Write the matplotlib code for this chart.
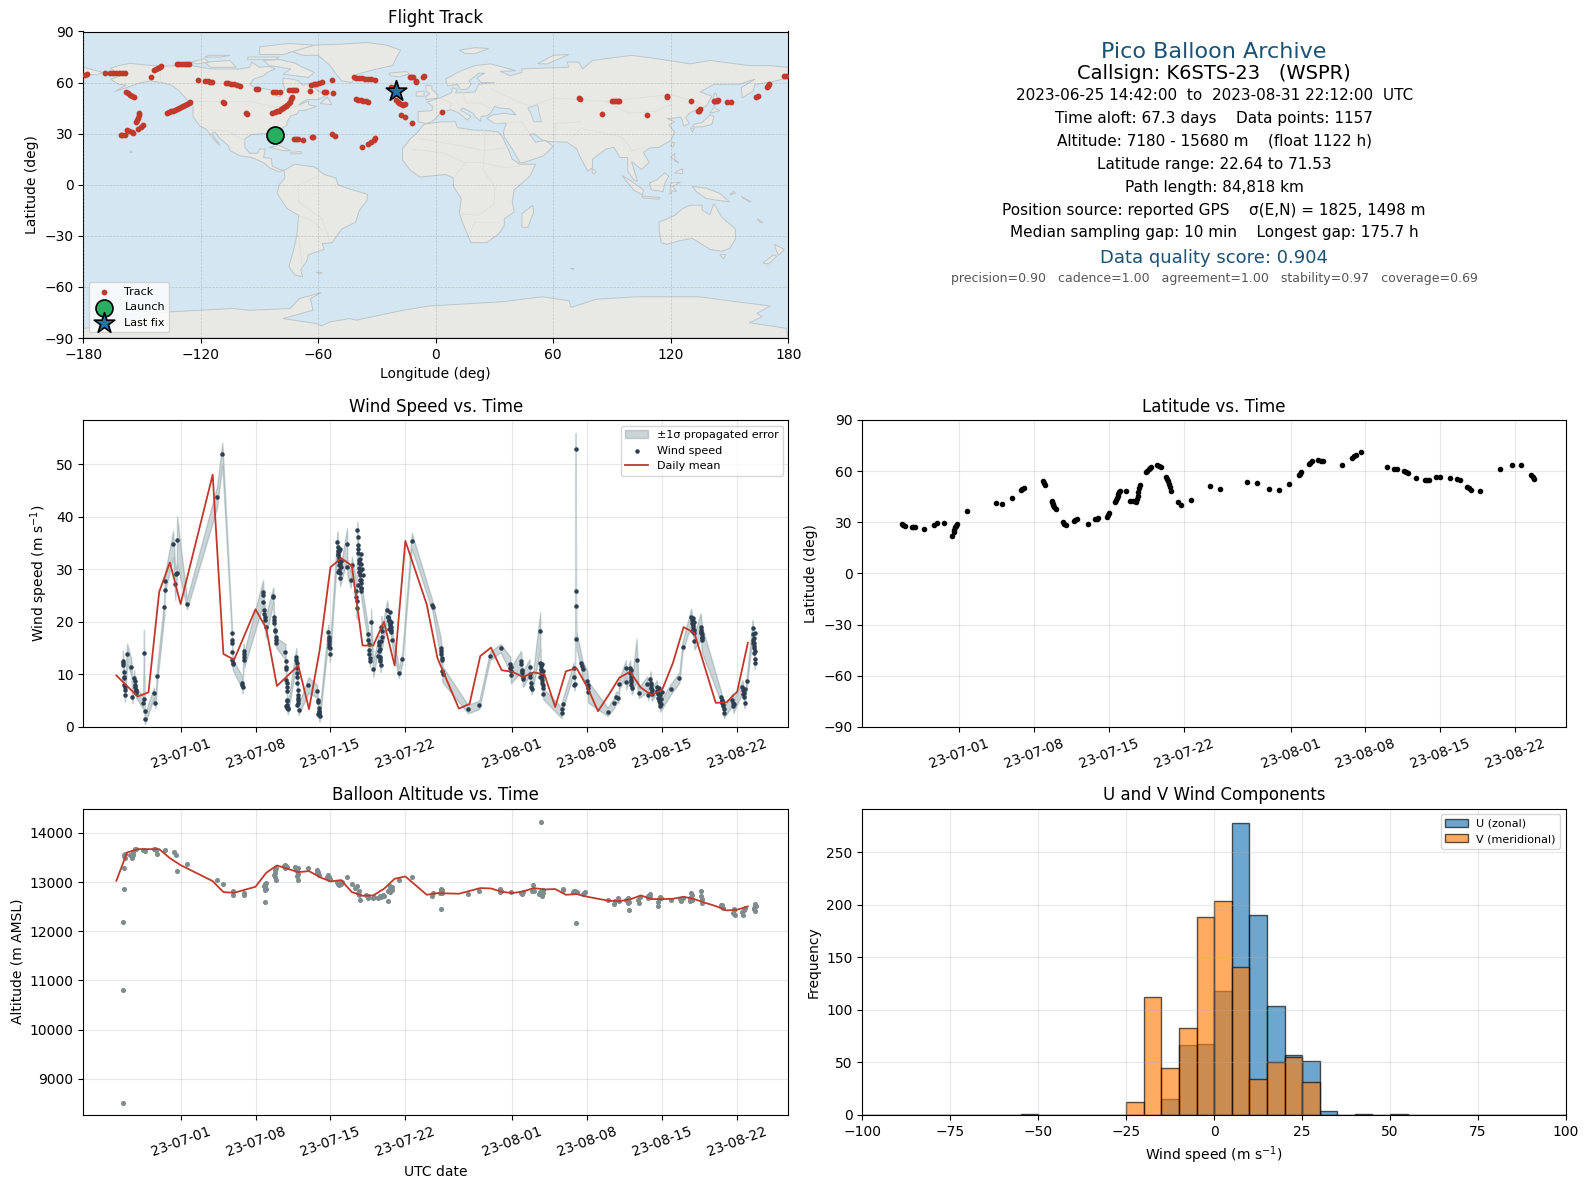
import datetime

import matplotlib
matplotlib.use("Agg")
import matplotlib.dates as mdates
import matplotlib.pyplot as plt
import numpy as np

W = 1590
H = 1189

# colours
OCEAN = '#d4e6f1'
LAND = '#e8e8e4'
COAST = '#bcc6ca'
RED = '#c0392b'
NAVY = '#2c3e50'
GREY = '#7f8c8d'
TITLE_BLUE = '#1a5276'

# ---- map outlines (lon, lat) ----
north_america = [(-168,65.5),(-164,66.5),(-166,68.5),(-162,70),(-156,71.3),(-148,70.3),(-140,69.7),(-130,70),(-124,69.8),
    (-115,68),(-108,68),(-100,68),(-95,69),(-94,72),(-90,69),(-85,69.5),(-82,68),(-86,66),(-88,64),(-93,62),(-95,59),
    (-92.5,57),(-88,56.5),(-82,55),(-82,52.5),(-79.5,51.5),(-79,54),(-77,56),(-78,59),(-78,62.5),(-73,62),(-70,61),
    (-68,58.5),(-65,59.5),(-62,57),(-60,55),(-56,52.5),(-60,50),(-66,50),(-70,47),(-65,49),(-65,47),(-61,46),(-66,44),
    (-70,43.5),(-71,41.5),(-74,40.5),(-76,37),(-76,35),(-81,31.5),(-80,27),(-80.5,25),(-82,27),(-84,30),(-89,30),
    (-94,29.5),(-97.5,27),(-97.5,22),(-95,18.5),(-91,18.5),(-90,21),(-87,21),(-88,16),(-84,15.5),(-83.5,11),(-80,9),
    (-77.5,8.5),(-80,7.5),(-85,10),(-88,13),(-94,16),(-100,17),(-105,20),(-106,23),(-110,27),(-113,31),(-114.5,30),
    (-110,23),(-112,25),(-115,29),(-117,32.5),(-120.5,34.5),(-124,40),(-124,47),(-127,50),(-131,55),(-135,58.5),
    (-140,60),(-146,61),(-152,59.5),(-158,57),(-164,54.7),(-158,58.5),(-162,59),(-166,62),(-161,64)]
south_america = [(-77.5,8.5),(-72,12),(-62,10.5),(-57,6),(-51,4),(-50,0),(-44,-2.5),(-35,-5.5),(-35,-9),(-39,-15),(-41,-22),
    (-48,-26),(-53,-34),(-58,-34.5),(-57,-38),(-65,-41),(-66,-45),(-69,-50),(-68,-54),(-72,-53),(-75,-48),(-73,-40),
    (-71,-30),(-70,-18),(-76,-14),(-81,-5),(-80,0),(-77,4)]
africa = [(-6,35.5),(3,37),(10,37),(11,33.5),(20,32),(25,32),(32,31),(34,28),(37,21),(39,15),(43,12),(51,12),(48,5),(40,-3),
    (39,-10),(40,-16),(35,-20),(35,-24),(32,-29),(26,-34),(18,-34),(15,-26),(12,-17),(13,-8),(9,-1),(9,4),(5,6),(-4,5),
    (-8,4.5),(-13,8.5),(-17,14.5),(-17,21),(-13,27),(-10,30)]
eurasia = [(-9,37),(-9,43),(-2,43.5),(-1.5,46),(-4.5,48.5),(2,51),(8,54),(8.5,57),(11,56),(10,54),(14,54),(20,54.5),(22,59),
    (30,60),(23,60),(21,63),(25,65.5),(22,65.5),(17,61),(18,59),(16,56),(12.5,56),(11,59),(6,58),(5,62),(13,67),(20,70),
    (28,71),(41,67),(33,66.5),(38,64),(44,66),(44,68),(54,68.5),(68,69),(67,72),(73,72),(75,68),(80,73),(100,76),(113,74),
    (130,71),(140,73),(160,70),(170,70),(180,69),(180,65),(177,64),(179,62.5),(170,60),(163,59),(162,55),(156.5,51),
    (156,57),(163,62),(155,59),(142,59),(135,54.5),(141,52),(138,46),(130,42.5),(127.5,39.5),(129.5,36),(126.5,34.5),
    (126,37.5),(125,39.8),(121,39),(118,39),(122,37),(119,35),(122,31),(120,26),(114,22),(109,21.5),(106,19),(109,13),
    (105,9),(100,13.5),(103,2),(101,3),(98,8),(98,16),(94,16),(91,22),(87,21),(80,15),(80,10),(77.5,8),(73,18),(72,21),
    (67,25),(57,25.5),(54,26.5),(50,30),(48,29.5),(51,25),(56,26),(60,22.5),(55,17),(45,13),(43,13),(39,21),(35,28),
    (34.5,31),(36,36),(30,36),(26,39),(29,41),(35,42),(41,41),(38,44.5),(33,45),(30,46),(28,42),(26,40.5),(23,40),(23,37),
    (20,40),(19,42),(14,45),(12.5,44),(18,40),(16,38),(12,42),(8,44),(3,43),(0,39),(-2,37),(-5,36)]
australia = [(114,-22),(122,-18),(126,-14),(130,-12),(136,-12),(136,-15),(140,-17.5),(142,-11),(146,-19),(153,-26),(153,-32),
    (150,-37.5),(146,-39),(140,-38),(136,-35),(131,-31.5),(124,-33),(118,-35),(115,-34),(114,-26)]
antarctica = [(-180,-90),(-180,-84.4),(-170,-83),(-155,-79),(-145,-76),(-136.6,-74.7),(-120.5,-73.7),(-103.5,-72.7),(-95,-73.7),
    (-74.5,-72.7),(-69.5,-66.8),(-58.4,-63.3),(-64,-66.8),(-62.7,-73.7),(-78,-78.6),(-61,-81.5),(-58.4,-82.9),(-54,-80.5),
    (-44,-78.6),(-40.5,-79.5),(-16.7,-73.7),(-3.4,-71.2),(34,-68.7),(54.4,-65.8),(68,-68.1),(69,-72),(71.4,-71.2),(81.6,-67.3),
    (102,-65.8),(134.4,-65.8),(149.7,-68.1),(170.9,-71.2),(164,-75.5),(166.7,-77.5),(160,-81),(179,-84.3),(180,-90)]
islands = [
    [(-73,78),(-68,76),(-60,76),(-54,70),(-51,65),(-48,61),(-43,60),(-40,65),(-30,68),(-22,70),(-20,75),(-18,79),(-25,82),(-35,83.5),(-50,82.5),(-62,82),(-70,80)],
    [(-80,73.5),(-72,71.5),(-68,69),(-62,66),(-65,63),(-72,64),(-78,65),(-74,68),(-85,70),(-88,73)],
    [(-118,72),(-105,73),(-102,69),(-115,69)],
    [(-90,76.5),(-78,76.5),(-62,82),(-75,83),(-90,81)],
    [(-125,72),(-118,74),(-116,72),(-122,71)],
    [(-110,75),(-105,76),(-116,76),(-118,75)],
    [(-96,75),(-80,75),(-82,73.5),(-96,73.5)],
    [(-59,47.7),(-53,47),(-55.5,51.5)],
    [(-85,22),(-80,23),(-74,20),(-78,20)],
    [(-74,19),(-69,19.5),(-68.5,18.3),(-74,18)],
    [(-180,69),(-175,67.5),(-170,66),(-173,64.5),(-180,65)],
    [(-5,50),(1,51),(1,53),(-2,56),(-2,58),(-5,58.5),(-5,55),(-3,53.5),(-5,52)],
    [(-10,52),(-6,52),(-6,55),(-10,54.5)],
    [(-24,65.5),(-15,66.5),(-13.5,65),(-19,63.4),(-23,64)],
    [(12,79),(20,80.5),(27,80),(20,77),(15,77)],
    [(52,71),(57,71),(68,76.5),(60,76)],
    [(131,34),(136,34),(141,35.5),(142,40),(140,41),(136,36.5),(132,35.5)],
    [(140,42),(145,43.5),(142,45.5)],
    [(130,33.5),(132,33),(131,31)],
    [(142,46),(144,49),(143,54),(142,53)],
    [(120,23),(121,25),(122,24.5),(121,22)],
    [(80,9.5),(82,7.5),(80.5,6),(79.8,8)],
    [(120,16),(122,18.5),(122,14),(124,13)],
    [(122,7),(126,9.5),(126,6.5)],
    [(95,5.5),(100,2),(106,-3),(105.5,-6),(101,-3)],
    [(105,-6.5),(114.5,-7.5),(114,-8.5),(106,-7.7)],
    [(109,1),(113,3),(117,7),(119,5),(117,1),(116,-4),(110,-3)],
    [(119.5,-5.5),(120,1),(125,1.5),(121,-1),(123,-4),(121,-3.5)],
    [(131,-1),(138,-2),(145,-5),(150,-10),(143,-9),(138,-8),(133,-4)],
    [(145,-41),(148,-41),(147,-43.5)],
    [(173,-35),(178,-38),(175,-41.5),(174,-39)],
    [(172.5,-41),(174,-42),(170,-46.5),(167,-46)],
    [(49.5,-12),(50,-16),(47,-25),(44,-25),(44,-17)],
    [(-156,20),(-155,19),(-156,19)],
    [(68.5,-49),(70,-49),(70,-49.7)],
    [(-61,-51.5),(-58,-51.5),(-59,-52.3)],
    [(164,-20),(167,-22),(166,-22.3)],
    [(152,-4),(153,-5),(150,-6)],
    [(156,-7),(161,-10),(160,-10)],
]
caspian = [(47,45),(52,47),(53,41),(54,37),(50,37),(49,40.5)]
borders = [
    [(-123,49),(-95,49),(-83,46),(-75,45),(-67,47)],
    [(-117,32.5),(-106,31.5),(-97.5,26)],
    [(-141,70),(-141,60)],
    [(-70,-10),(-58,-20),(-54,-33)],
    [(-70,-10),(-70,0),(-60,5)],
    [(-70,-18),(-62,-22),(-58,-27)],
    [(-70,-30),(-68,-50)],
    [(-8,27),(12,23),(25,20),(37,22)],
    [(-13,21),(3,19),(15,13),(24,13),(35,10),(43,11)],
    [(25,32),(25,20),(24,9),(30,-1),(30,-11),(22,-18),(12,-17)],
    [(9,4),(15,13)],
    [(17,-29),(20,-22),(32,-22)],
    [(2,51),(8,48),(7,44)],
    [(14,54),(15,48),(22,48),(28,45)],
    [(28,56),(40,50),(48,46),(60,51),(87,49),(120,53),(135,48),(131,43)],
    [(30,36),(44,37),(48,30)],
    [(61,25),(61,36),(74,37)],
    [(67,25),(74,33),(79,32),(95,28),(98,24),(100,20),(106,22)],
    [(87,49),(98,42),(112,43),(120,47)],
]

# ---- track ----
track_lon = [-179.1,-178,-168.9,-166.4,-165,-163.5,-162,-160.3,-158.7,-145.6,-143.9,-143,-142,-141,-140.5,
    -132.4,-131,-129.5,-128,-126.9,-125.9,-158.2,-157,-156,-155,-154,-121.3,-117.9,-116.5,-115.5,-114.5,
    -107.2,-106,-104.5,-103,-101.5,-100,-91.6,-90.8,-108.6,-108,-96.7,-96.2,
    -83,-81.5,-79.7,-74.9,-73.5,-72.3,-71.2,-64.4,-57.2,-56.3,-52.3,-63.5,-62.3,-61,-59.5,-57.9,-52.8,
    -41.9,-40.5,-39,-37.5,-36,-34.5,-33,-31.2,-22.7,-13.3,-12.5,-11.6,-10.3,-10,-6.5,-6.2,
    -40.9,-39.5,-38.3,-37,-35.8,-34.6,-20.1,-19.5,-18.8,-18,-17,-15.9,-17.6,-15.5,-12,3.4,
    73.1,73.8,85,90.1,91,92,93,93.5,108,117.9,118.2,130.4,134.4,135,133.8,142,142.8,143.5,144.2,148.8,150.5,
    163.3,164.3,169.2,169.7,170.2,177.7,179,
    -137.5,-136.4,-135.3,-134.2,-133.2,-132.1,-131,-130,-129,-128,-127,-126.2,-125.6,
    -83.4,-82.3,-81.2,-80.2,-79.2,-78.2,-77.3,-76.5,-75.8,-75,-74.4,-73.8,-73.2,
    -151.4,-151.8,-152.3,-152.7,-153.1,-149.7,-150.6,-151.9,-161,-160,-158.9,-157.9,-156.5,-155.3,-154.5,
    -72.5,-71.4,-70.3,-67.6,-63.3,-62.7,-53.1,-51.3,-37.5,-34.6,-33,-31.8,-30.9]
track_lat = [64.7,64.8,65.7,65.7,65.7,65.7,65.7,65.7,65.7,63.5,67.4,67.9,68.5,69.1,69.6,
    70.9,70.9,70.9,70.9,70.9,70.9,54.3,53.6,53,52.2,51.4,61.6,61,60.7,60.5,60.2,
    60,59.7,59.3,59,58.4,57.9,56.3,56,48.5,48,42,41.6,
    54.5,54.5,54.5,55.7,55.7,55.7,55.7,55.1,54.5,54.5,53.9,58.6,59,59.4,60,60.6,61.6,
    63.1,62.9,62.7,62.5,62.3,62.1,61.9,61.6,57.3,63,63.4,63,61.2,60.6,63.5,63.9,
    50.4,50,49.6,49.2,48.9,48.5,49.8,48.6,47.8,47.2,47.1,47.4,41,39.9,36.4,43,
    51,50.6,41.3,49,49.2,49,49,49.2,40.8,52.4,51.8,49.2,43.6,44.4,43.2,49,49.2,49.4,49.5,48.4,48.8,
    51.3,52.2,57.6,58.2,59,64.1,64.1,
    42,42.6,43.1,43.6,44.1,44.6,45.2,45.8,46.3,46.9,47.5,48.2,48.7,
    42,42.5,43.1,43.6,44.2,44.8,45.4,46.1,46.9,47.8,48.8,50.1,51.4,
    42.2,40.8,39.4,38,36.7,34.8,33.9,32.8,29,29,29.5,31.9,31.8,31,30.3,
    27,27.1,27,26,27.8,28.3,29.9,28.7,22.3,24,25.2,26.5,27.5]
launch_lon = -81.9
launch_lat = 29.2
last_lon = -20.1
last_lat = 55

# ---- wind speed, days from 2023-07-01 ----
wind_day = [-5.4,-5.38,-5.36,-5.33,-5.3,-5.28,-5.26,-5.24,-5.22,-5.2,
    -5.0,-4.6,-4.5,-4.35,-4.3,-4.27,-4.24,-4.2,-4.17,-4.13,
    -3.5,-3.42,-3.38,-3.36,-3.34,-2.5,-2.35,-2.2,-1.52,-1.5,-1.42,
    -0.7,-0.5,-0.4,-0.35,-0.33,0.6,3.4,3.9,
    4.8,4.81,4.82,4.83,4.84,4.86,4.88,5.75,5.77,5.8,5.88,5.9,5.92,5.94,
    7.7,7.72,7.74,7.78,7.82,7.86,7.9,7.95,8.65,8.68,8.7,8.73,8.76,8.8,8.84,8.88,8.92,8.96,
    9.8,9.82,9.84,9.86,9.88,9.9,9.92,9.94,9.96,9.98,10,10.02,
    10.8,10.82,10.84,10.86,10.88,10.9,10.92,10.94,10.96,10.98,11,11.02,
    11.95,12.75,12.8,12.82,12.9,12.92,12.95,12.98,
    13.8,13.82,13.85,13.88,13.92,13.95,
    14.65,14.68,14.7,14.73,14.76,14.78,14.8,14.83,14.87,14.9,
    15.55,15.58,15.9,16,
    16.4,16.42,16.44,16.46,
    16.5,16.53,16.56,16.59,16.62,16.65,16.68,16.71,16.74,16.77,16.8,16.83,16.86,16.89,
    17.5,17.55,17.58,17.6,17.63,17.66,17.7,17.8,18,
    18.5,18.54,18.58,18.62,18.66,18.7,18.76,18.8,18.84,
    19.3,19.38,19.46,19.54,19.62,19.7,19.78,
    20.4,20.7,21.6,23.5,23.55,
    24.3,24.33,24.36,24.39,24.42,24.45,24.48,
    26.85,27.9,28.9,29.9,
    30.8,30.82,30.84,30.86,
    31.8,31.84,31.88,31.92,31.96,32,
    32.6,32.63,32.66,32.75,32.78,32.81,33.6,
    33.62,33.65,33.68,33.71,33.74,33.77,33.8,33.84,33.88,
    35.6,35.63,35.7,36.72,36.76,36.8,36.84,36.9,36.92,36.94,36.97,37.45,37.5,37.56,
    38,38.03,38.06,38.1,39.9,40.5,40.7,40.9,41,41.6,41.63,
    42,42.03,42.06,42.09,42.12,42.15,42.6,42.8,43.6,43.7,
    43.9,43.93,43.96,43.99,44.02,44.5,44.55,44.6,44.65,44.7,44.75,44.8,45.8,46.6,46.9,
    47.7,47.75,47.8,47.85,47.9,47.95,48,48.6,48.63,48.66,48.69,48.72,
    50.5,50.56,50.62,50.68,50.75,51.55,51.6,51.65,
    52.5,52.55,52.6,52.65,52.7,52.9,
    53.45,53.48,53.51,53.54,53.57,53.6,53.63,53.66]
wind_speed = [12.5,12.2,11.7,10.5,9.6,9.4,8.0,7.6,7.1,6.0,
    13.9,11.4,5.7,9.3,8.7,8.0,7.6,7.1,6.8,6.5,
    4.6,14.1,5.3,3.0,1.5,6.5,4.6,9.7,22.8,26,27.8,
    34.8,27.2,29.2,29.3,35.6,23.4,43.7,51.9,
    17.9,16.6,16,14.3,12.8,12.2,11.9,8.4,8,7.6,14.4,13.9,13.4,12.8,
    25.6,25.1,23.8,22.3,21.5,20.9,20.3,19.1,25,24.8,21,20.4,19.8,18.5,18.2,17.2,16.6,16,
    14.3,12.5,11.5,11,9,8.4,7.7,6.8,5.2,4.2,3.7,3.4,
    13.4,12.8,12.2,11.2,10.3,9.6,8.4,7.1,6,5.2,4.6,3.3,
    8,6.8,5.2,4.7,3,2.7,2.3,2,
    18,17.2,16.3,15.7,15,13.9,
    35.2,34.3,33.4,32.8,32.1,31.5,30.9,29.9,29.3,28.3,
    34.8,30.4,28,30.9,
    25.8,24.8,23.9,22.6,
    37.5,36.2,34.7,33.8,33.1,31.8,31.2,30.2,29.6,29,28,27.4,26.4,25.8,
    17.7,16.6,15.7,14.7,13.8,13.1,12.6,20,11,
    16.2,15.6,14.4,13.4,12.5,11.7,19.1,18.2,17.1,
    22.3,21,20.4,19.8,19.1,18.5,16.6,
    10.3,12.9,35.4,23.2,22.8,
    15,14.4,13.8,13.1,12.8,10.6,10,
    3.4,4.2,13.5,15,
    11.9,11.2,10.6,9.8,
    12.5,11.9,10.9,10.3,9.6,9.1,
    11.4,10,9.6,8.4,7.7,7.2,18.3,
    12.2,11.6,10.9,10.3,9.6,9,8.4,7.4,6.3,
    2.7,3.4,4.3,11.2,9.6,8,8.2,25.9,52.9,23,16.7,12.2,11.6,11,
    8.7,8,7.4,6.6,2.9,4.6,5.8,5.5,8.2,11.2,8.6,
    11.2,10.3,9.6,9,8,7.4,12.8,6.5,8.1,6.1,
    9.1,8.4,7.4,6.5,6.2,7.7,6.8,6.2,5.5,4.9,4.5,3.9,7.2,9.4,15.3,
    21,20.4,19.8,19.1,18.5,17.9,16.3,19.1,18.5,17.9,17.2,16.6,
    5.7,5,4.6,3.9,2.7,5.2,4.6,3.9,
    7.7,7.1,6.5,5.7,4.6,8.7,
    18.8,17.6,16.6,16,15,14,13,12.2]
wind_sigma = [2,2,1.5,1.5,1.5,1.5,1,1,1,1.2,
    2,1.5,1.2,1.5,1.2,1,1,1,1,1,
    1.2,4.4,1,1,1,1,1,1.5,1.5,1.5,1.8,
    2.5,3,1.5,1.5,4.5,1,2,2.2,
    1,1,1,1,1,1,1,1.2,1.2,1.2,1.5,1.5,1.5,1.5,
    2.3,2.3,2.3,2.3,2.3,2.3,2,2,1.5,1.5,1.5,1.5,1.5,1.5,1.5,1.5,1,1,
    1.5,1.2,1.2,1.2,1.2,1,1,1,1,1,1,1,
    1.6,1.6,1.5,1.5,1.2,1.2,1.2,1,1,1,1,1,
    1.5,1.2,1,1,1,1,1,1,
    1.5,1.5,1.5,1.5,1.5,1.5,
    2,2,1.5,1.5,1.5,1.5,1.5,1.5,1.5,1.5,
    3,1.5,1.5,1.5,
    2,2,2,2,
    1.5,1.5,1.5,1.5,1.5,1.5,1.5,1.5,1.5,1.5,1.5,1.5,1.5,1.5,
    1.5,1.2,1.2,1.2,1.2,1.2,1.2,2.5,1.5,
    1.2,1.2,1.2,1.2,1.2,1.2,2,2,2,
    1.8,1.8,1.8,1.8,1.5,1.5,1.5,
    1,1,1.5,1,1,
    2,2,2,1.5,1.5,1.5,1.5,
    0.8,0.8,0.8,0.8,
    1.5,1.5,1.5,1.5,
    2,2,1.5,1.5,1.5,1.5,
    1.5,1.5,1.5,1,1,1,3.5,
    1.5,1.5,1.2,1.2,1.2,1.2,1.2,1,1,
    1,1,1,1,1,1,1,3,3,2.5,1.5,1.5,1.5,1.5,
    2,2,2,2,0.8,1,1,1,1,1.5,1.5,
    1.5,1.5,1.5,1.5,1.2,1.2,4,1,1.5,1,
    1.5,1.5,1.2,1.2,1.2,1.2,1.2,1.2,1.2,1,1,1,1,1,1,
    1.5,1.5,1.5,1.5,1.5,1.5,1.5,2.5,2.5,2.5,2.5,2.5,
    1,1,1,1,1,1.2,1.2,1.2,1.2,1.2,1.2,1,1,1,
    1.5,1.5,1.5,1.5,1.5,1.5,1.2,1.2]
# more dots in the dense clusters
wind_extra_day = [14.7,14.8,14.85,14.95,15,14.75,14.9,16.75,16.85,16.9,16.95,17,16.9,16.7,16.6,16.85,
    19.4,19.5,19.6,19.45,19.55,19.65,19.7,18.6,18.45,18.65,18.75,33.7,33.8,33.75,33.85,33.6,33.9,
    9.9,9.85,9.95,10.9,10.95,12.85,12.95,12.9,13.85,13.9,44.6,44.75,44.85,44.95,44.7,44.9,
    47.85,47.9,47.95,47.8,48,48.65,48.7,48.75,50.6,50.7,50.8,50.55,51.7,52.55,52.7,
    53.55,53.6,53.65,53.7,53.5,30.85,31.9,42.1,42.05,43.95,44.05]
wind_extra_speed = [33,33.5,31,31.6,30.5,29.5,33.9,32,33,31,30,29,28,29.5,27,26.5,
    21,20.2,19.4,18.6,21.8,18,20,14.9,13.5,12.9,16.4,11,12,9.9,10.6,9.5,8,
    5,4,3.6,4.2,5.5,2.5,2.8,3.6,16.8,15.2,6.5,6,5.4,6.6,7.4,4.3,
    20.7,19.4,18.5,18.2,20,18,17,17.6,5.2,4.4,3.5,4.8,4.3,6.2,7.3,
    17,15.5,14.5,17.9,16,11.5,10.6,10.9,8.6,7.9,7]
mean_day = [-6,-4,-3,-2,-1,0,3,4,5,7,8,9,11,12,13,14,15,16,17,18,19,20,21,23,24,26,27,28,29,30,31,32,33,34,35,36,37,38,
    39,40,41,42,43,44,45,46,47,48,50,51,52,53]
mean_speed = [9.8,5.8,6.6,25.7,31.3,23.4,48.0,13.9,12.8,22.4,18.8,7.8,11.7,3.4,14.7,30.4,32.1,30.7,15.5,15.5,20,11.7,35.4,
    23.3,13.1,3.5,4.4,13.5,15.1,10.8,10.5,9.5,10.4,10,3.8,10.6,11.2,7.6,3,6.1,9.4,10.5,7.5,6.1,7.1,12.2,19,17.9,4.6,4.7,6.7,16]

# ---- latitude ----
lat_day = [-5.4,-5.25,-5.1,-4.45,-4.3,-4.15,-3.35,-2.4,-2.1,-1.4,-0.7,-0.55,-0.48,-0.4,-0.3,-0.2,0.7,3.4,4,4.9,5.8,5.9,6,
    7.85,7.9,8,8.65,8.7,8.75,8.8,8.9,9,9.65,9.8,10,10.7,10.85,11,12,12.7,12.85,13,13.8,13.9,14,
    14.6,14.66,14.72,14.8,14.85,14.9,15,15.6,16,16.25,16.5,16.6,16.68,16.75,16.85,16.95,
    17.5,17.6,17.7,17.8,17.9,18.5,18.7,18.85,19.35,19.42,19.5,19.6,19.7,19.8,20.5,20.75,21.65,
    23.5,24.35,26.9,27.85,28.95,29.9,30.85,31.75,31.88,32,32.7,32.85,33,33.55,33.8,34,35.8,
    36.75,36.9,37.1,37.6,40,40.7,41,41.6,41.8,42,42.75,43.6,43.8,44,44.6,45,45.9,46.6,46.9,
    47.55,47.7,47.9,48.7,50.6,51.7,52.6,53.55,53.68,53.8]
lat_deg = [28.8,28.3,27.8,27.5,27.3,27,25.9,28.2,29.4,29.8,22.2,24.5,25.7,27,27.9,28.8,36.5,41.2,41,44.1,48.8,49.4,50,
    54.5,53.2,52,42.7,41.8,41,40.2,38.9,37.6,30,29.3,28.6,30.8,31.4,32,29.2,32,32.2,32.4,33.3,34.3,35.3,
    42.2,43.3,44.4,45.5,46.6,47.6,48.6,48.6,42.4,42.3,42.2,43.7,45.5,48,50,52,
    59.4,60.2,61,61.9,62.7,63.5,63,62.4,56.5,55.2,54,52.5,50.5,48.6,41.8,40.4,42.9,
    51.2,49.4,53.5,52.9,49.4,48.8,52.5,57.6,58.6,59.6,64.1,64.9,65.7,66.3,66.1,65.9,63.9,
    67.8,68.7,69.6,71.4,62.4,61.2,61.2,60,59.4,58.8,56.1,55.1,55,54.9,56.5,56.7,55.9,55.3,54.7,
    51,50,49,48.2,61.4,63.9,63.9,57.8,56.5,55.3]

# ---- altitude ----
alt_day = [-5.42,-5.29,-5.21,-5.33,-5.33,-5.4,-5.4,-4.58,-4.46,-4.29,-3.42,-2.42,-2.21,-1.46,-0.63,-0.42,-0.29,0.63,3.42,3.92,
    4.88,4.88,5.88,5.88,7.79,7.92,7.92,7.92,8.83,8.75,8.88,9.79,9.79,10.83,10.92,10.96,11.92,12.71,12.92,13.75,13.96,
    14.71,15,15.54,16.04,16.46,16.67,16.79,17.5,18,18.63,18.96,19.42,19.58,19.71,19.38,20.42,21.58,23.5,24.29,24.38,24.29,
    26.88,27.92,29.88,30.83,31.88,32.88,32.79,33.75,33.75,33.67,35.71,36.79,36.96,37.71,39.92,40.54,40.83,41.79,41.79,41.88,
    42.79,43.83,43.63,44.79,44.63,45.83,46.79,47.71,47.63,48.63,48.71,50.63,51.67,51.79,52.63,52.54,53.63,53.63,53.75,
    -5.25,-5.15,-4.7,-4.55,-4.4,-4.2,-3.5,-3.35,-2.5,-2.3,
    7.85,7.9,7.95,8,8.8,8.85,8.9,9.7,9.85,9.9,10.7,10.8,10.9,11,10.95,
    12.8,12.7,13.7,13.85,13.9,14.6,14.8,14.9,15.05,16.3,16.55,16.7,17.3,17.5,18.1,18.4,18.7,18.9,19.5,19.6,19.75,
    24.25,24.3,24.4,23.6,29.8,29.95,31.8,32,33,33.5,33.6,33.85,33.9,
    35.75,36.7,36.85,37,37.6,37.8,40.6,41,41.6,41.85,42.7,42.9,43.7,43.9,44.7,44.9,44.65,46.7,46.9,47.6,47.75,47.8,48.65,48.7,
    50.5,50.7,51.6,51.75,52.5,52.7,53.55,53.7,53.6]
alt_m = [12186,13556,13488,13278,12858,10800,8500,13488,13556,13671,13644,13678,13570,13658,13610,13542,13224,13366,13047,12959,
    12810,12742,12776,12736,12912,12959,12844,12593,13251,13149,13047,13353,13285,13285,13115,13034,13285,13251,13149,13149,13061,
    12966,12959,13095,12959,12912,12810,12641,12722,12668,12722,12708,12607,12912,12844,12810,13047,13102,12722,12858,12776,12458,
    12756,12824,12858,12790,12763,12932,12810,12810,12722,14220,12858,12810,12173,12776,12641,12559,12675,12675,12573,12437,
    12573,12763,12675,12695,12505,12641,12607,12776,12607,12810,12573,12539,12437,12336,12437,12336,12539,12403,12505,
    13530,13580,13560,13510,13620,13680,13650,13630,13680,13660,
    12880,12920,12980,12860,13190,13100,13280,13330,13320,13300,13300,13260,13220,13280,13170,
    13200,13210,13110,13060,13100,13000,12950,13010,13000,12870,12780,12740,12730,12680,12700,12680,12690,12730,12840,12790,12900,
    12770,12810,12830,12780,12790,12810,12780,12790,12820,12750,12790,12780,12830,
    12830,12790,12820,12800,12750,12800,12610,12620,12630,12590,12640,12690,12720,12690,12650,12680,12590,12650,12680,12680,12730,12640,12720,12650,
    12530,12480,12370,12450,12400,12470,12450,12560,12480]
alt_mean_day = [-6,-5,-4,-2,-1,0,3,4,5,7,8,9,11,12,13,14,15,16,17,18,19,20,21,23,24,26,28,29,30,31,32,33,34,35,36,37,38,39,40,41,
    42,43,44,45,46,47,48,49,50,51,52,53]
alt_mean = [13027,13603,13671,13671,13488,13346,13020,12797,12783,12905,13190,13339,13203,13224,13102,13014,13041,12797,12722,12729,
    12864,13068,13115,12742,12776,12763,12878,12871,12803,12776,12810,12878,12851,12858,12742,12756,12702,12661,12620,12614,
    12647,12729,12654,12654,12661,12702,12654,12580,12512,12424,12437,12505]

# ---- histogram ----
bin_edges = list(range(-100, 101, 5))
u_counts = [0,0,0,0,0,0,0,0,0,1,0,0,0,0,0,0,0,15,67,68,118,278,190,104,57,51,4,0,1,0,1,0,0,0,0,0,0,0,0,0]
v_counts = [0,0,0,0,0,0,0,0,0,0,0,0,0,0,0,12,112,45,83,189,204,141,34,50,55,31,0,0,0,0,0,0,0,0,0,0,0,0,0,0]

# ---- date axis ----
base_date = mdates.date2num(datetime.datetime(2023, 7, 1))
tick_dates = [datetime.datetime(2023, 7, 1), datetime.datetime(2023, 7, 8), datetime.datetime(2023, 7, 15),
              datetime.datetime(2023, 7, 22), datetime.datetime(2023, 8, 1), datetime.datetime(2023, 8, 8),
              datetime.datetime(2023, 8, 15), datetime.datetime(2023, 8, 22)]
DAY_MIN = -9.09
DAY_MAX = 56.78


def to_dates(days):
    return base_date + np.array(days, dtype=float)


def px_axes(left, top, right, bottom):
    return fig.add_axes([left / W, 1 - bottom / H, (right - left) / W, (bottom - top) / H])


def date_axis(ax):
    ax.set_xlim(base_date + DAY_MIN, base_date + DAY_MAX)
    ax.set_xticks(mdates.date2num(tick_dates))
    ax.xaxis.set_major_formatter(mdates.DateFormatter('%y-%m-%d'))
    ax.tick_params(axis='x', labelrotation=20)
    ax.grid(True, alpha=0.3)


fig = plt.figure(figsize=(W / 100, H / 100), dpi=100)

L1, R1 = 83.3, 788.3
L2, R2 = 862.3, 1566
ROW1 = (31.5, 338)
ROW2 = (420, 727)
ROW3 = (808.5, 1115)

# Flight track
ax = px_axes(L1, ROW1[0], R1, ROW1[1])
ax.set_facecolor(OCEAN)
for poly in [north_america, south_america, africa, eurasia, australia, antarctica] + islands:
    xy = np.array(poly)
    ax.fill(xy[:, 0], xy[:, 1], facecolor=LAND, edgecolor=COAST, linewidth=0.7, zorder=1)
xy = np.array(caspian)
ax.fill(xy[:, 0], xy[:, 1], facecolor=OCEAN, edgecolor=COAST, linewidth=0.6, zorder=1.1)
for line in borders:
    xy = np.array(line)
    ax.plot(xy[:, 0], xy[:, 1], color='#dcdcd8', linewidth=0.5, zorder=1.2)
ax.scatter(track_lon, track_lat, s=10, color=RED, zorder=3, label='Track')
ax.scatter([launch_lon], [launch_lat], s=150, color='#27ae60', edgecolor='black', linewidth=1.2, zorder=4, label='Launch')
ax.scatter([last_lon], [last_lat], s=240, marker='*', color='#2471a3', edgecolor='black', linewidth=1.2, zorder=4, label='Last fix')
ax.set_xlim(-180, 180)
ax.set_ylim(-90, 90)
ax.set_xticks(np.arange(-180, 181, 60))
ax.set_yticks(np.arange(-90, 91, 30))
ax.grid(True, color='gray', alpha=0.35, linewidth=0.5, linestyle='--', zorder=2)
ax.set_axisbelow(False)
ax.set_xlabel('Longitude (deg)')
ax.set_ylabel('Latitude (deg)')
ax.set_title('Flight Track', fontsize=12)
ax.legend(loc='lower left', fontsize=8)

# Summary text
info_x = (L2 + R2) / 2 / W
info = [
    (51.5, 'Pico Balloon Archive', 16, TITLE_BLUE),
    (73.5, 'Callsign: K6STS-23   (WSPR)', 14, 'black'),
    (95, '2023-06-25 14:42:00  to  2023-08-31 22:12:00  UTC', 11, 'black'),
    (118, 'Time aloft: 67.3 days    Data points: 1157', 11, 'black'),
    (141, 'Altitude: 7180 - 15680 m    (float 1122 h)', 11, 'black'),
    (164, 'Latitude range: 22.64 to 71.53', 11, 'black'),
    (187.5, 'Path length: 84,818 km', 11, 'black'),
    (210, 'Position source: reported GPS    σ(E,N) = 1825, 1498 m', 11, 'black'),
    (233, 'Median sampling gap: 10 min    Longest gap: 175.7 h', 11, 'black'),
    (258, 'Data quality score: 0.904', 13, TITLE_BLUE),
    (278.5, 'precision=0.90   cadence=1.00   agreement=1.00   stability=0.97   coverage=0.69', 9, '#555555'),
]
for y_px, txt, size, col in info:
    fig.text(info_x, 1 - y_px / H, txt, fontsize=size, color=col, ha='center', va='center')

# Wind speed
ax = px_axes(L1, ROW2[0], R1, ROW2[1])
t = to_dates(wind_day)
v = np.array(wind_speed)
s = np.array(wind_sigma)
ax.fill_between(t, np.clip(v - s, 0, None), v + s, color='#6f8a8f', alpha=0.36, linewidth=1.0, label='±1σ propagated error')
ax.scatter(np.concatenate([t, to_dates(wind_extra_day)]), np.concatenate([v, wind_extra_speed]), s=5, color=NAVY, zorder=3, label='Wind speed')
ax.plot(to_dates(mean_day), mean_speed, color=RED, linewidth=1.3, zorder=4, label='Daily mean')
date_axis(ax)
ax.set_ylim(0, 58.4)
ax.set_ylabel('Wind speed (m s$^{-1}$)')
ax.set_title('Wind Speed vs. Time', fontsize=12)
ax.legend(loc='upper right', fontsize=8)

# Latitude
ax = px_axes(L2, ROW2[0], R2, ROW2[1])
ax.scatter(to_dates(lat_day), lat_deg, s=9, color='black', zorder=3)
date_axis(ax)
ax.set_ylim(-90, 90)
ax.set_yticks(np.arange(-90, 91, 30))
ax.set_ylabel('Latitude (deg)')
ax.set_title('Latitude vs. Time', fontsize=12)

# Altitude
ax = px_axes(L1, ROW3[0], R1, ROW3[1])
ax.scatter(to_dates(alt_day), alt_m, s=7, color=GREY, zorder=3)
ax.plot(to_dates(alt_mean_day), alt_mean, color=RED, linewidth=1.3, zorder=4)
date_axis(ax)
ax.set_ylim(8260, 14498)
ax.set_xlabel('UTC date')
ax.set_ylabel('Altitude (m AMSL)')
ax.set_title('Balloon Altitude vs. Time', fontsize=12)

# U and V histogram
ax = px_axes(L2, ROW3[0], R2, ROW3[1])
centers = (np.array(bin_edges[:-1]) + np.array(bin_edges[1:])) / 2
ax.hist(centers, bins=bin_edges, weights=u_counts, color='tab:blue', alpha=0.65, edgecolor='black', label='U (zonal)')
ax.hist(centers, bins=bin_edges, weights=v_counts, color='tab:orange', alpha=0.65, edgecolor='black', label='V (meridional)')
ax.set_xlim(-100, 100)
ax.set_ylim(0, 291.9)
ax.set_xticks(np.arange(-100, 101, 25))
ax.grid(True, alpha=0.3)
ax.set_xlabel('Wind speed (m s$^{-1}$)')
ax.set_ylabel('Frequency')
ax.set_title('U and V Wind Components', fontsize=12)
ax.legend(loc='upper right', fontsize=8)

fig.savefig('out.png', dpi=100)
